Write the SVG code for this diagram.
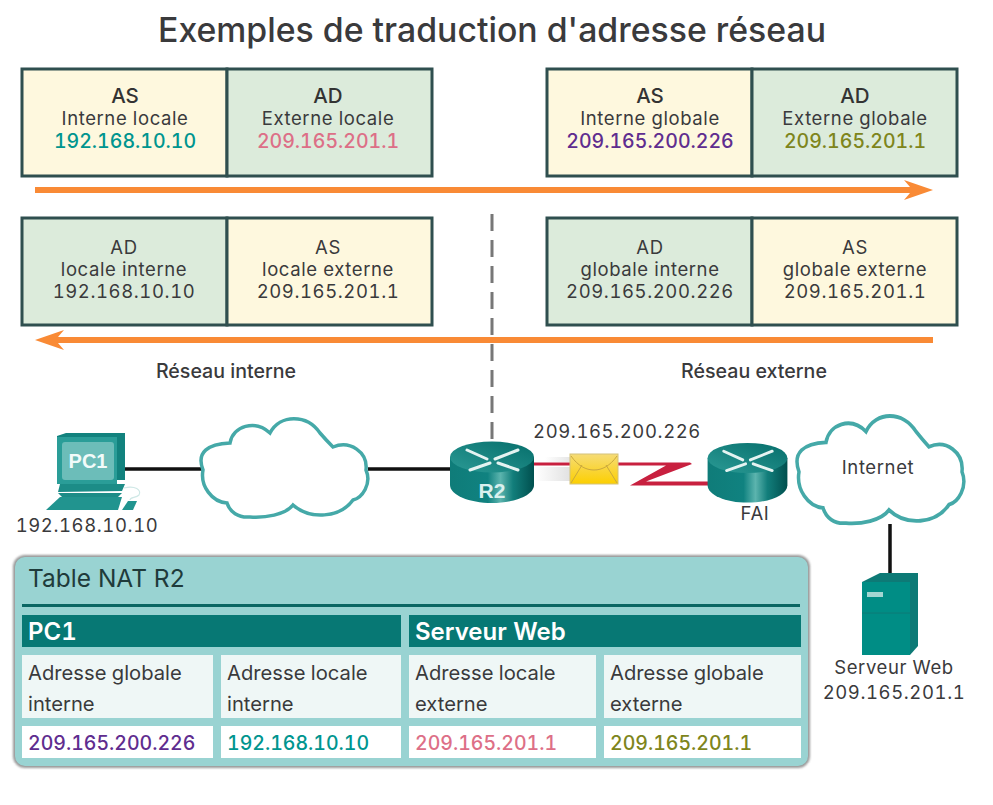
<svg xmlns="http://www.w3.org/2000/svg" xmlns:xlink="http://www.w3.org/1999/xlink" width="993" height="805" viewBox="0 0 993 805">
<style>
text{font-family:"Inter","Liberation Sans",sans-serif;fill:#3a3a3c;font-feature-settings:"tnum"}
.m{text-anchor:middle}
.h{font-size:20.5px;font-weight:500;fill:#333}
.s{font-size:18.5px;letter-spacing:.6px}
.v{font-size:19.5px;font-weight:500}
.r{font-size:18.5px;letter-spacing:.6px}
.l{font-size:19.6px;font-weight:500}
.t{font-size:20.2px}
.p{fill:#fef8de;stroke:#2f4f4f;stroke-width:3}
.g{fill:#dcebdb;stroke:#2f4f4f;stroke-width:3}
.th{fill:#077874}
.c1{fill:#eff7f6}
.c2{fill:#fff}
.w{fill:#fff;font-weight:600;font-size:24px}
.cl{fill:#fff;stroke:#45a9a8;stroke-width:3.5}
.wire{stroke:#111;stroke-width:3.5;fill:none}
.a{stroke:#e4f3f1;stroke-width:3;stroke-linecap:round;fill:none}
</style>
<defs>
<linearGradient id="rb" x1="0" x2="1" y1="0" y2="0"><stop offset="0" stop-color="#0f7c79"/><stop offset=".45" stop-color="#108280"/><stop offset=".6" stop-color="#5cb4ae"/><stop offset=".75" stop-color="#127e7b"/><stop offset="1" stop-color="#004f4e"/></linearGradient>
<linearGradient id="rt" x1="0" x2="1" y1="1" y2="0"><stop offset="0" stop-color="#2b9a95"/><stop offset="1" stop-color="#066e6b"/></linearGradient>
<linearGradient id="en" x1="0" x2="0" y1="0" y2="1"><stop offset="0" stop-color="#f6dc77"/><stop offset="1" stop-color="#fccf00"/></linearGradient>
<linearGradient id="st" x1="0" x2="1" y1="0" y2="0"><stop offset="0" stop-color="#fff"/><stop offset="1" stop-color="#d5d5d5"/></linearGradient>
<filter id="sh" x="-3%" y="-5%" width="106%" height="110%"><feGaussianBlur stdDeviation="1.2"/></filter>
<symbol id="router" overflow="visible">
<path d="M-42,0V28C-42,38-23,46 0,46S42,38 42,28V0Z" fill="url(#rb)"/>
<ellipse cx="0" cy="0" rx="42" ry="15.5" fill="url(#rt)"/>
<path class="a" d="M-25,-7L-5,2M26,-7L3,2M-22,13L-2,6M26,13L6,6"/>
</symbol>
<path id="cloud" d="M3,54C-4,36 8,28 30,27C33,10 55,3 70,17C80,-2 107,-2 120,17C126,24 130,28 133,31C150,24 168,36 166,54C172,68 162,82 153,84C140,102 110,104 93,89C85,99 65,102 50,101C38,102 30,96 27,87C12,86 0,70 3,54Z"/>
</defs>
<text id="title" x="492" y="42" class="m" style="font-size:33.8px;font-weight:500;fill:#3a3a3c;font-feature-settings:normal">Exemples de traduction d'adresse réseau</text>

<g id="packet-1">
<rect x="22" y="69" width="205" height="107" class="p"/><rect x="227" y="69" width="205" height="107" class="g"/>
<text x="125" y="103" class="m h">AS</text><text x="125" y="125" class="m s">Interne locale</text><text x="125" y="148" class="m v" style="fill:#00958f">192.168.10.10</text>
<text x="328" y="103" class="m h">AD</text><text x="328" y="125" class="m s">Externe locale</text><text x="328" y="148" class="m v" style="fill:#dd6f87">209.165.201.1</text>
</g>
<g id="packet-2">
<rect x="547" y="69" width="205" height="107" class="p"/><rect x="752" y="69" width="205" height="107" class="g"/>
<text x="650" y="103" class="m h">AS</text><text x="650" y="125" class="m s">Interne globale</text><text x="650" y="148" class="m v" style="fill:#5f2d8f">209.165.200.226</text>
<text x="855" y="103" class="m h">AD</text><text x="855" y="125" class="m s">Externe globale</text><text x="855" y="148" class="m v" style="fill:#7e851c">209.165.201.1</text>
</g>
<g id="packet-3">
<rect x="22" y="218" width="205" height="107" class="g"/><rect x="227" y="218" width="205" height="107" class="p"/>
<text x="124" y="254" class="m r">AD</text><text x="124" y="276" class="m r">locale interne</text><text x="124" y="298" class="m r">192.168.10.10</text>
<text x="328" y="254" class="m r">AS</text><text x="328" y="276" class="m r">locale externe</text><text x="328" y="298" class="m r">209.165.201.1</text>
</g>
<g id="packet-4">
<rect x="547" y="218" width="205" height="107" class="g"/><rect x="752" y="218" width="205" height="107" class="p"/>
<text x="650" y="254" class="m r">AD</text><text x="650" y="276" class="m r">globale interne</text><text x="650" y="298" class="m r">209.165.200.226</text>
<text x="855" y="254" class="m r">AS</text><text x="855" y="276" class="m r">globale externe</text><text x="855" y="298" class="m r">209.165.201.1</text>
</g>

<g id="connectors">
<path d="M35,187H910L904,180 933,190 904,200 910,193H35Z" fill="#f98a35"/>
<path d="M933,337H58L64,330 35,340 64,350 58,343H933Z" fill="#f98a35"/>
<path d="M492,214V445" stroke="#777" stroke-width="3" stroke-dasharray="17 9" fill="none"/>
<path class="wire" d="M124,469H202M368,469H450M890,524V574"/>
<path d="M534,462.5H690L692,464L646,481.5H710V485.5H630L666,465.5H534Z" fill="#c8203f"/>
</g>

<g id="net-left"><text x="226" y="378" class="m l">Réseau interne</text></g>
<g id="net-right"><text x="754" y="378" class="m l">Réseau externe</text></g>

<g id="pc1">
<path d="M57,436L66,433H125V480H117V484H57Z" fill="#12827e"/>
<rect x="57" y="437" width="60" height="47" fill="#2a9d98"/>
<rect x="62" y="442" width="52" height="38" rx="3" fill="#6cbdb9"/>
<text x="88" y="468" class="m" style="font-size:20px;font-weight:700;fill:#f2fbfa;font-family:'Liberation Sans',sans-serif">PC1</text>
<path d="M60,484H125L122,491L58,492ZM58,493H122L118,497H62Z" fill="#1c8c87"/>
<path d="M46,510L60,497H122L118,510Z" fill="#21948f"/>
<path d="M122,510L128,501H137L133,510Z" fill="#21948f"/>
<path d="M124,488C135,485 142,490 139,495C136,498 130,497 130,500" fill="none" stroke="#cfe8e6" stroke-width="1.2"/>
<text x="87" y="532" class="m r">192.168.10.10</text>
</g>

<g id="cloud-1"><use xlink:href="#cloud" href="#cloud" class="cl" transform="translate(200,416)"/></g>

<g id="r2">
<use xlink:href="#router" href="#router" x="492" y="457"/>
<text x="492" y="498" class="m" style="font-size:21px;font-weight:700;fill:#d9f0ee;font-family:'Liberation Sans',sans-serif">R2</text>
</g>
<g id="envelope">
<rect x="535" y="467" width="35" height="14" fill="url(#st)" opacity=".7"/>
<rect x="545" y="457" width="25" height="5" fill="url(#st)" opacity=".6"/>
<rect x="570" y="454" width="48" height="30" fill="url(#en)" stroke="#d4c27a"/>
<path d="M571,456C578,466 586,470 594,470C602,470 610,466 617,456M571,483L582,465M617,483L606,465" fill="none" stroke="#c9a83e" stroke-width="1"/>
</g>
<text id="ip-label" x="617" y="438" class="m r">209.165.200.226</text>

<g id="cloud-internet">
<use xlink:href="#cloud" href="#cloud" class="cl" transform="translate(796,413) scale(1,1.09)"/>
<text x="878" y="474" class="m r">Internet</text>
</g>
<g id="fai">
<use xlink:href="#router" href="#router" transform="translate(747.5,458) scale(.95,.97)"/>
<text x="755" y="520" class="m r">FAI</text>
</g>
<g id="server">
<path d="M862,582L880,573H918V646L910,655H862Z" fill="#0d7a76"/>
<rect x="862" y="582" width="48" height="73" fill="#008d85"/>
<path d="M862,613H910" stroke="#0d7a76" stroke-width="1"/>
<rect x="867" y="592" width="16" height="5" fill="#a3d6d2"/>
<text x="894" y="674" class="m r">Serveur Web</text>
<text x="894" y="699" class="m r">209.165.201.1</text>
</g>

<g id="nat-table">
<rect x="13" y="555" width="797" height="213" rx="12" fill="#555" opacity=".6" filter="url(#sh)"/>
<rect x="15" y="557" width="793" height="209" rx="10" fill="#99d3d2"/>
<text x="28" y="587" style="font-size:24.5px;fill:#1f3b3b;font-feature-settings:normal">Table NAT R2</text>
<rect x="22" y="604" width="778" height="3" fill="#0a6663"/>
<rect x="22" y="615" width="379" height="32" class="th"/><rect x="409" y="615" width="392" height="32" class="th"/>
<text x="28" y="640" class="w">PC1</text><text x="415" y="640" class="w">Serveur Web</text>
<rect x="22" y="655" width="191" height="63" class="c1"/><rect x="221" y="655" width="180" height="63" class="c1"/><rect x="409" y="655" width="187" height="63" class="c1"/><rect x="604" y="655" width="197" height="63" class="c1"/>
<text x="28" y="680" class="t">Adresse globale</text><text x="28" y="711" class="t">interne</text>
<text x="227" y="680" class="t">Adresse locale</text><text x="227" y="711" class="t">interne</text>
<text x="415" y="680" class="t">Adresse locale</text><text x="415" y="711" class="t">externe</text>
<text x="610" y="680" class="t">Adresse globale</text><text x="610" y="711" class="t">externe</text>
<rect x="22" y="726" width="191" height="32" class="c2"/><rect x="221" y="726" width="180" height="32" class="c2"/><rect x="409" y="726" width="187" height="32" class="c2"/><rect x="604" y="726" width="197" height="32" class="c2"/>
<text x="28" y="750" class="v" style="fill:#5f2d8f">209.165.200.226</text>
<text x="227" y="750" class="v" style="fill:#00958f">192.168.10.10</text>
<text x="415" y="750" class="v" style="fill:#dd6f87">209.165.201.1</text>
<text x="610" y="750" class="v" style="fill:#7e851c">209.165.201.1</text>
</g>
</svg>
